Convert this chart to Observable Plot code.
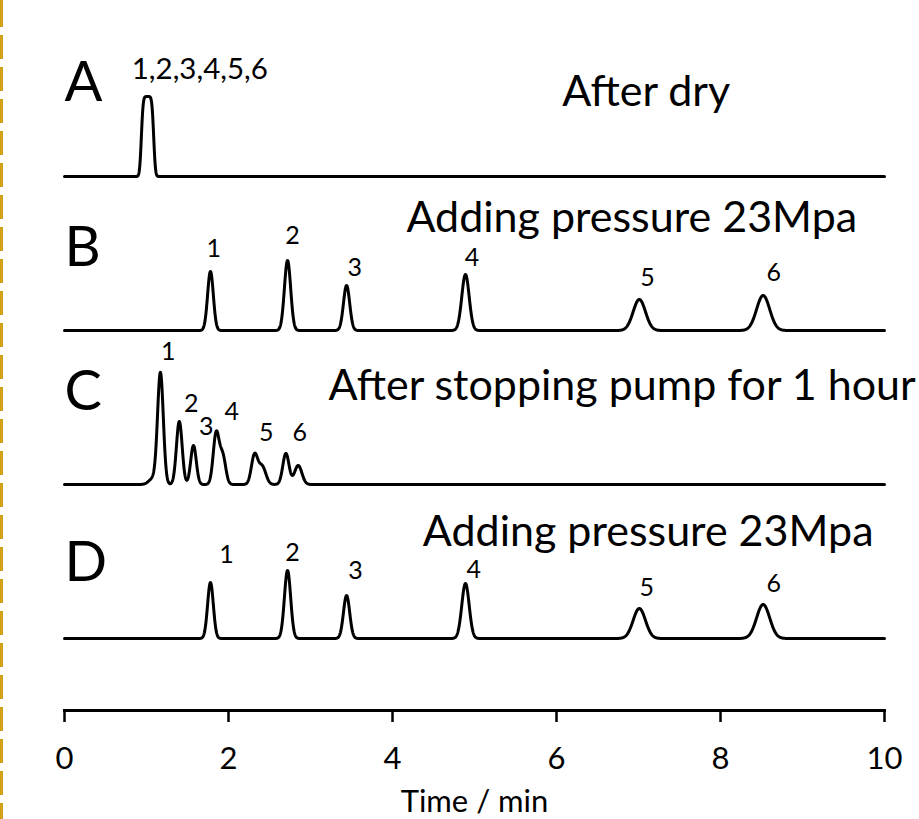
<!DOCTYPE html>
<html><head><meta charset="utf-8">
<script src="https://cdn.jsdelivr.net/npm/d3@7"></script>
<script src="https://cdn.jsdelivr.net/npm/@observablehq/plot@0.6"></script>
<style>
html,body{margin:0;padding:0;background:#fff;}
#wrap{position:relative;width:919px;height:819px;overflow:hidden;}
#dash{position:absolute;left:0;top:0;width:3px;height:819px;
  background:repeating-linear-gradient(to bottom,#D4A017 0 24px,transparent 24px 32px);
  background-position:0 3px;}
</style></head><body>
<div id="wrap"><div id="dash"></div></div>
<script>
// ---- Chromatograms (A–D) ----
const traces = ["A", "B", "C", "D"];
const titles = ["After dry", "Adding pressure 23Mpa", "After stopping pump for 1 hour", "Adding pressure 23Mpa"];
const titleTime = [6.07, 4.17, 3.22, 4.37];      // where each title starts (min)
const titleLevel = [71, 99, 85, 93];             // signal level of title baseline
const letterLevel = [76, 65, 75, 58];            // signal level of panel letter baseline

// Peaks: retention time (min), height (signal), sigma (min)
// Trace A: the six compounds co-elute at ~1 min
const rtA = [0.95, 0.975, 1.0, 1.025, 1.05, 1.075];
const hA  = [42, 42, 42, 42, 42, 42];
const sdA = [0.019, 0.019, 0.019, 0.019, 0.019, 0.019];

const rtB = [1.78, 2.72, 3.44, 4.89, 7.01, 8.52];
const hB  = [59, 70, 45, 56, 31, 35];
const sdB = [0.035, 0.038, 0.038, 0.045, 0.075, 0.08];

const rtC = [1.08, 1.17, 1.40, 1.573, 1.85, 1.93, 2.317, 2.41, 2.70, 2.85];
const hC  = [6, 111, 63, 39, 51, 28, 29, 18, 31, 19];
const sdC = [0.05, 0.035, 0.035, 0.034, 0.036, 0.036, 0.038, 0.045, 0.038, 0.045];

const rtD = [1.78, 2.72, 3.44, 4.89, 7.01, 8.52];
const hD  = [56, 68, 43, 55, 30, 34];
const sdD = [0.035, 0.038, 0.038, 0.045, 0.075, 0.08];

// Peak labels
const labA = ["1,2,3,4,5,6"]; const labA_t = [1.65]; const labA_y = [98];
const labB = ["1","2","3","4","5","6"]; const labB_t = [1.82, 2.78, 3.54, 4.97, 7.11, 8.65]; const labB_y = [74, 87, 55, 65, 45, 50];
const labC = ["1","2","3","4","5","6"]; const labC_t = [1.265, 1.545, 1.73, 2.04, 2.46, 2.87]; const labC_y = [125, 73, 50, 65, 44, 44];
const labD = ["1","2","3","4","5","6"]; const labD_t = [1.976, 2.78, 3.55, 4.99, 7.10, 8.65]; const labD_y = [76, 78, 60, 61, 43, 47];

const xTicks = [0, 2, 4, 6, 8, 10];

// ---- build tables ----
const peakSets = {A: [rtA, hA, sdA], B: [rtB, hB, sdB], C: [rtC, hC, sdC], D: [rtD, hD, sdD]};
const grid = d3.range(0, 10.00001, 0.0025);
const signal = [];
for (const tr of traces) {
  const [rt, h, sd] = peakSets[tr];
  for (const t of grid) {
    let v = 0;
    for (let i = 0; i < rt.length; i++) v += h[i] * Math.exp(-((t - rt[i]) ** 2) / (2 * sd[i] ** 2));
    signal.push({trace: tr, t, v});
  }
}
const labelSets = {A: [labA, labA_t, labA_y], B: [labB, labB_t, labB_y], C: [labC, labC_t, labC_y], D: [labD, labD_t, labD_y]};
const peakLabels = [];
for (const tr of traces) {
  const [txt, t, y] = labelSets[tr];
  txt.forEach((s, i) => peakLabels.push({trace: tr, text: s, t: t[i], y: y[i]}));
}
const panels = traces.map((tr, i) => ({trace: tr, title: titles[i], tt: titleTime[i], ty: titleLevel[i], ly: letterLevel[i]}));

const chart = Plot.plot({
  width: 919, height: 819,
  marginTop: 94, marginBottom: 109, marginLeft: 64, marginRight: 35,
  style: {fontFamily: "Lato", color: "black", background: "white"},
  x: {domain: [0, 10]},
  y: {domain: [0, 82], insetBottom: 72, axis: null},
  fy: {domain: traces, axis: null, padding: 0},
  marks: [
    Plot.lineY(signal, {x: "t", y: "v", fy: "trace", stroke: "black", strokeWidth: 3, strokeLinejoin: "round"}),
    Plot.text(panels, {x: 0, y: "ly", fy: "trace", text: "trace", fontSize: 56, textAnchor: "start", lineAnchor: "bottom", fill: "black"}),
    Plot.text(panels, {x: "tt", y: "ty", fy: "trace", text: "title", fontSize: 43, textAnchor: "start", lineAnchor: "bottom", fill: "black"}),
    Plot.text(peakLabels.filter(d => d.trace === "A"), {x: "t", y: "y", fy: "trace", text: "text", fontSize: 29.5, lineAnchor: "bottom", fill: "black"}),
    Plot.text(peakLabels.filter(d => d.trace !== "A"), {x: "t", y: "y", fy: "trace", text: "text", fontSize: 25, lineAnchor: "bottom", fill: "black"}),
    Plot.frame({anchor: "bottom", facetAnchor: "bottom", strokeWidth: 3, stroke: "black"}),
    Plot.axisX({ticks: xTicks, tickSize: 12, strokeWidth: 2.5, tickPadding: 24, fontSize: 31,
      label: "Time / min", labelAnchor: "center", labelOffset: 101, labelArrow: "none"})
  ]
});
document.getElementById("wrap").appendChild(chart);
chart.style.position = "absolute"; chart.style.left = "0"; chart.style.top = "0";
document.getElementById("wrap").appendChild(document.getElementById("dash"));
</script>
</body></html>
